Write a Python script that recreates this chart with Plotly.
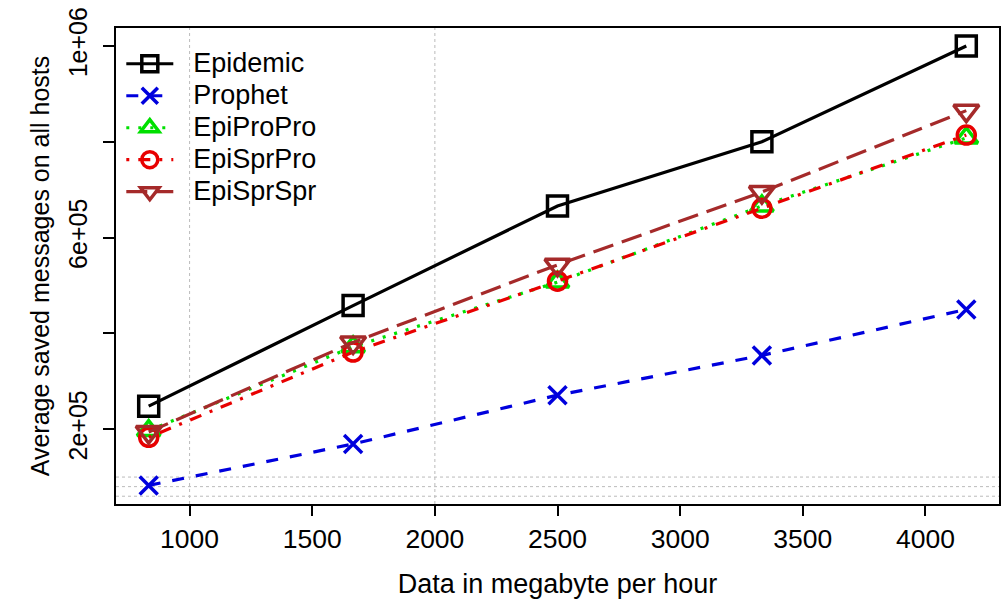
import plotly.graph_objects as go

# ---- data ----
x_data = [833.33, 1666.67, 2500.0, 3333.33, 4166.67]
epidemic = [248000, 458000, 666000, 800000, 1000000]
prophet = [82500, 169000, 271000, 354000, 450000]
epipropro = [197000, 372000, 507000, 666000, 808000]
episprpro = [183000, 361000, 509000, 661000, 814000]
episprspr = [194000, 381000, 543000, 695000, 865000]

series_names = ["Epidemic", "Prophet", "EpiProPro", "EpiSprPro", "EpiSprSpr"]
x_ticks = [1000, 1500, 2000, 2500, 3000, 3500, 4000]
y_ticks = [200000, 400000, 600000, 800000, 1000000]
y_ticktext = ["2e+05", "", "6e+05", "", "1e+06"]
v_grid = [1000, 2000]
h_grid = [60000, 80000, 100000]

x_title = "Data in megabyte per hour"
y_title = "Average saved messages on all hosts"

# ---- styles ----
colors = ["#000000", "#0000DD", "#00E000", "#E80000", "#A52A2A"]
dashes = ["solid", "12px,12px", "3px,9px", "3px,9px,12px,9px", "21px,9px"]
symbols = ["square-open", "x-thin-open", "triangle-up-open", "circle-open", "triangle-down-open"]
sizes = [20, 18, 20, 18, 22]

FONT = "Liberation Sans, Arial, Helvetica, sans-serif"

fig = go.Figure()
for name, ys, c, d, s, sz in zip(series_names,
                                 [epidemic, prophet, epipropro, episprpro, episprspr],
                                 colors, dashes, symbols, sizes):
    fig.add_trace(go.Scatter(
        x=x_data, y=ys,
        name="<span style='font-size:27px'>&nbsp;&nbsp;" + name + "</span>",
        mode="lines+markers",
        line=dict(color=c, width=3.2, dash=d),
        marker=dict(symbol=s, size=sz, color=c, line=dict(color=c, width=3.5)),
    ))

shapes = []
for xv in v_grid:
    shapes.append(dict(type="line", xref="x", yref="paper", x0=xv, x1=xv, y0=0, y1=1,
                       line=dict(color="#BBBBBB", width=1, dash="dot"), layer="below"))
for yv in h_grid:
    shapes.append(dict(type="line", xref="paper", yref="y", x0=0, x1=1, y0=yv, y1=yv,
                       line=dict(color="#BBBBBB", width=1, dash="dot"), layer="below"))

fig.update_layout(
    width=1002, height=599,
    margin=dict(l=116, r=1, t=28, b=95),
    paper_bgcolor="white", plot_bgcolor="white",
    font=dict(family=FONT, size=26, color="black"),
    shapes=shapes,
    showlegend=True,
    legend=dict(x=0.006, y=0.969, xanchor="left", yanchor="top",
                bgcolor="rgba(0,0,0,0)", borderwidth=0,
                font=dict(size=22.3), tracegroupgap=0, itemwidth=47),
    xaxis=dict(range=[700, 4300], tickvals=x_ticks, ticks="outside", ticklen=10,
               tickwidth=1.5, tickcolor="black", showgrid=False, zeroline=False,
               showline=True, linecolor="black", linewidth=2, mirror=True,
               tickfont=dict(size=26.5),
               title=dict(text=x_title, font=dict(size=27), standoff=24)),
    yaxis=dict(range=[43750, 1037500], tickvals=y_ticks, ticktext=y_ticktext,
               ticks="outside", ticklen=11, tickwidth=1.5, tickcolor="black",
               tickangle=-90, showgrid=False, zeroline=False, ticklabelstandoff=6,
               showline=True, linecolor="black", linewidth=2, mirror=True,
               tickfont=dict(size=25),
               title=dict(text=y_title, font=dict(size=25), standoff=7)),
)

fig.write_html("out.html")
